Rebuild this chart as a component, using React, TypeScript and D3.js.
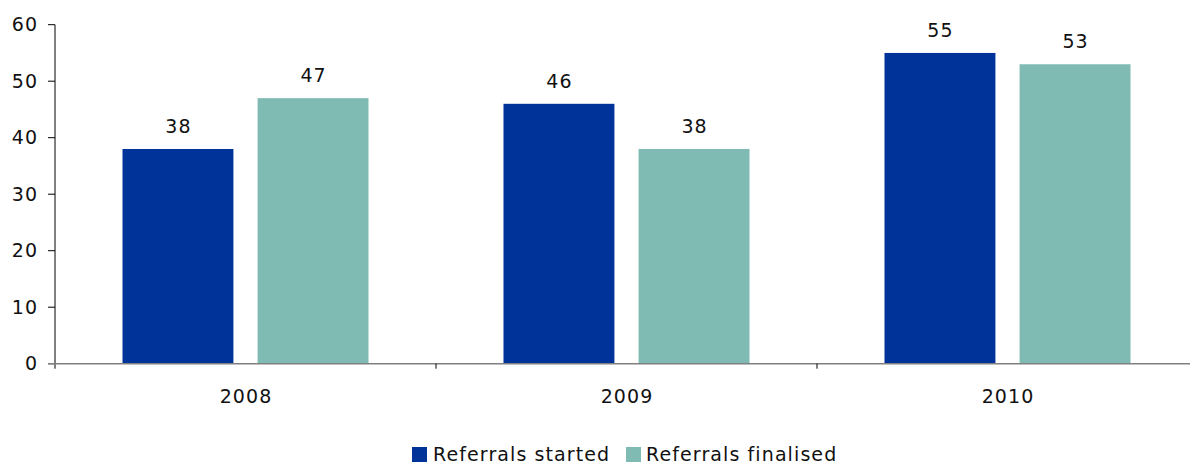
import React from "react";
import * as d3 from "d3";

const categories = ["2008", "2009", "2010"];
const seriesNames = ["Referrals started", "Referrals finalised"];
const started = [38, 46, 55];
const finalised = [47, 38, 53];
const yTicks = [0, 10, 20, 30, 40, 50, 60];
const colors = ["#003399", "#7fbbb2"];

export default function App() {
  const W = 1190, H = 464;
  const x0 = 55, yTop = 24.7, yBottom = 363.7;
  const band = 381;
  const x = d3.scaleBand<string>().domain(categories).range([x0, x0 + band * 3]).paddingInner(0).paddingOuter(0);
  const xs = d3.scaleBand<string>().domain(seriesNames).range([67.5, band - 67.5]).paddingInner(22 / 123).paddingOuter(0);
  const y = d3.scaleLinear().domain([0, 60]).range([yBottom, yTop]);
  const series = [started, finalised];
  const font = "'DejaVu Sans', Verdana, sans-serif";
  const fs = 19;
  const ls = 1.1;

  return (
    <svg width={W} height={H} style={{ position: "absolute", left: 0, top: 0, background: "#fff" }} fontFamily={font} letterSpacing={ls}>
      {categories.map((c, ci) =>
        series.map((s, si) => {
          const bx = (x(c) as number) + (xs(seriesNames[si]) as number);
          const bw = xs.bandwidth();
          return (
            <g key={c + si}>
              <rect x={bx} y={y(s[ci])} width={bw} height={y(0) - y(s[ci])} fill={colors[si]} />
              <text x={bx + bw / 2 + ls / 2} y={y(s[ci]) - 16} textAnchor="middle" fontSize={fs} fill="#111">{s[ci]}</text>
            </g>
          );
        })
      )}
      {/* y axis */}
      <line x1={x0} x2={x0} y1={yTop} y2={yBottom + 5} stroke="#000" strokeWidth={1} />
      {yTicks.map((t) => (
        <g key={t}>
          <line x1={x0 - 7} x2={x0} y1={y(t)} y2={y(t)} stroke="#000" strokeWidth={1} />
          <text x={x0 - 18 + ls} y={y(t) + 6.5} textAnchor="end" fontSize={fs} fill="#111">{t}</text>
        </g>
      ))}
      {/* x axis */}
      <line x1={x0 - 7} x2={W} y1={yBottom} y2={yBottom} stroke="#808080" strokeWidth={1.5} />
      {categories.map((c) => (
        <line key={"t" + c} x1={(x(c) as number) + band} x2={(x(c) as number) + band} y1={yBottom} y2={yBottom + 5} stroke="#000" strokeWidth={1} />
      ))}
      {categories.map((c) => (
        <text key={"l" + c} x={(x(c) as number) + band / 2 + ls / 2} y={403} textAnchor="middle" fontSize={fs} fill="#111">{c}</text>
      ))}
      {/* legend */}
      <rect x={412} y={447} width={15} height={15} fill={colors[0]} />
      <text x={433} y={461} fontSize={fs} fill="#111">{seriesNames[0]}</text>
      <rect x={626} y={447} width={15} height={15} fill={colors[1]} />
      <text x={646} y={461} fontSize={fs} fill="#111">{seriesNames[1]}</text>
    </svg>
  );
}
